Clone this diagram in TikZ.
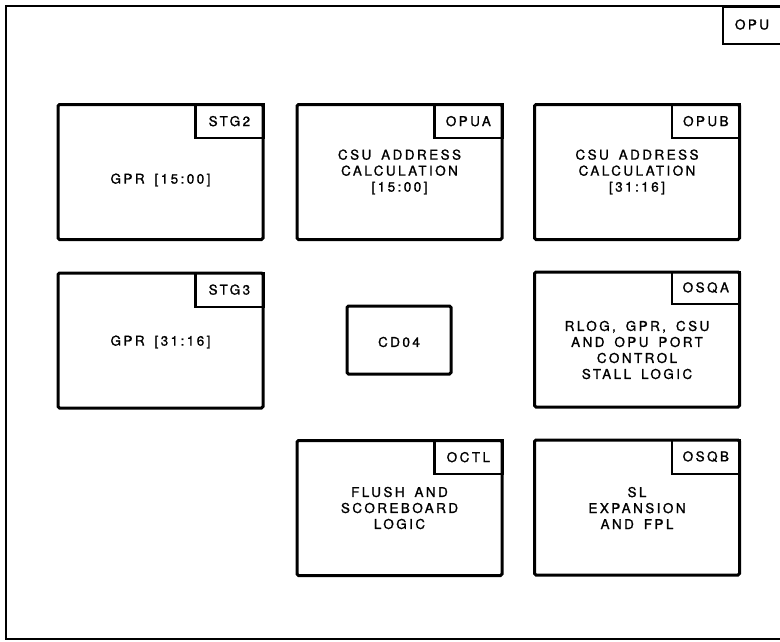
\documentclass[tikz,border=0pt]{standalone}
\usepackage{fontspec}
\setmainfont{TeX Gyre Heros}[LetterSpace=18, WordSpace=1.6, FakeBold=1.2]
\begin{document}
\begin{tikzpicture}[x=1pt,y=-1pt,
  blk/.style={draw, line width=3pt, rounded corners=1.5pt, minimum width=205pt, minimum height=135pt, inner sep=0pt},
  cdbox/.style={draw, line width=3pt, rounded corners=1.5pt, minimum width=104pt, minimum height=68pt, inner sep=0pt},
  lbl/.style={draw, line width=2.3pt, minimum width=68pt, minimum height=34pt, inner sep=0pt, anchor=north east, font=\fontsize{13.5}{16}\selectfont},
  txt/.style={align=center, inner sep=0pt, font=\fontsize{13.5}{16}\selectfont}]
\useasboundingbox (0,0) rectangle (780,641);
% outer frame
\coordinate (ftr) at (790,6);
\coordinate (ftl) at (6,6);
\coordinate (fbl) at (6,639);
\coordinate (fbr) at (790,639);
\draw[line width=2.4pt] (ftr) -- (ftl) -- (fbl) -- (fbr);
\node[draw, line width=2.3pt, minimum width=62pt, minimum height=37pt, inner sep=0pt, anchor=north west] (opu) at (722,6) {};
\node[txt] (opuT) at (752,24.5) {OPU};
% row 1
\node[blk] (stg2) at (160.5,172) {};
\node[lbl] (stg2L) at (stg2.north east) {STG2};
\node[txt] (stg2T) at (160.5,180) {GPR [15:00]};
\node[blk] (opua) at (399.5,172) {};
\node[lbl] (opuaL) at (opua.north east) {OPUA};
\node[txt] (opuaT) at (399.5,172) {CSU ADDRESS\\CALCULATION\\{}[15:00]};
\node[blk] (opub) at (637,172) {};
\node[lbl] (opubL) at (opub.north east) {OPUB};
\node[txt] (opubT) at (637,172) {CSU ADDRESS\\CALCULATION\\{}[31:16]};
% row 2
\node[blk] (stg3) at (160.5,340.5) {};
\node[lbl] (stg3L) at (stg3.north east) {STG3};
\node[txt] (stg3T) at (160.5,342) {GPR [31:16]};
\node[cdbox] (cd04) at (399,340) {};
\node[txt] (cd04T) at (399,342) {CD04};
\node[blk] (osqa) at (637,339.5) {};
\node[lbl, minimum height=32pt] (osqaL) at (osqa.north east) {OSQA};
\node[txt] (osqaT) at (637,350) {RLOG, GPR, CSU\\AND OPU PORT\\CONTROL\\STALL LOGIC};
% row 3
\node[blk] (octl) at (399.5,508) {};
\node[lbl] (octlL) at (octl.north east) {OCTL};
\node[txt] (octlT) at (399.5,508) {FLUSH AND\\SCOREBOARD\\LOGIC};
\node[blk] (osqb) at (637,507.5) {};
\node[lbl] (osqbL) at (osqb.north east) {OSQB};
\node[txt] (osqbT) at (637,508) {SL\\EXPANSION\\AND FPL};
\end{tikzpicture}
\end{document}
